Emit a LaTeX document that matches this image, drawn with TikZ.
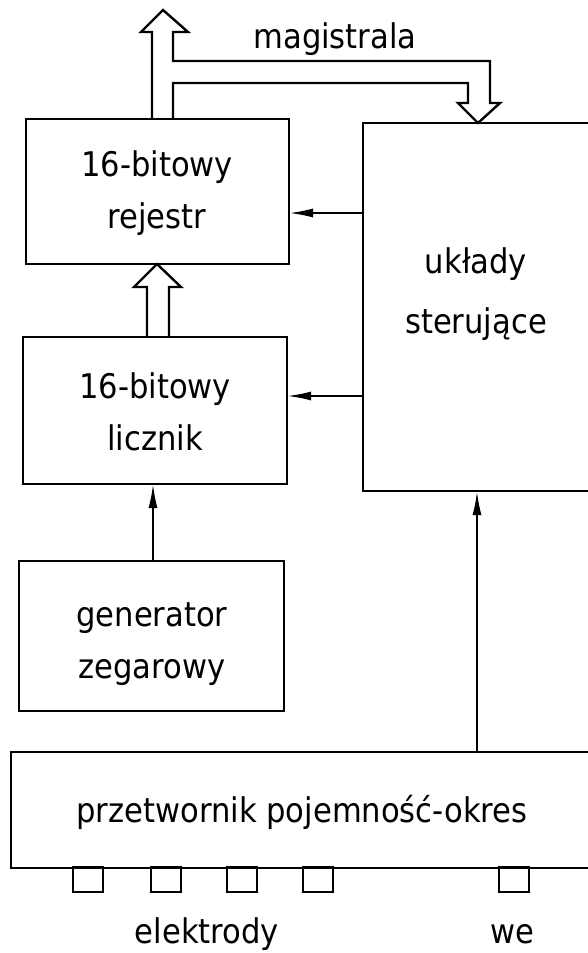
\documentclass[tikz,border=0pt]{standalone}
\usepackage{fontspec}
\setmainfont{DejaVu Sans}[FakeStretch=0.9]
\usetikzlibrary{arrows.meta,calc}
\begin{document}
\begin{tikzpicture}[x=1pt,y=-1pt,
  line width=2.4pt,
  blk/.style={draw,line width=2.6pt,inner sep=0pt,outer sep=0pt,anchor=north west},
  lbl/.style={font=\fontsize{34}{52}\selectfont,align=center,inner sep=0pt},
  pad/.style={draw,line width=2.4pt,minimum width=30pt,minimum height=25pt,inner sep=0pt,outer sep=0pt,anchor=north},
  sig/.style={line width=2pt,-{Latex[length=24pt,width=9pt]}},
  bus/.style={line width=2.4pt,line join=miter}]
\useasboundingbox (0,0) rectangle (588,953);
\clip (0,0) rectangle (588,953);
% blocks
\node[blk,minimum width=263pt,minimum height=145pt] (reg) at (26,119) {};
\node[blk,minimum width=264pt,minimum height=147pt] (cnt) at (23,337) {};
\node[blk,minimum width=265pt,minimum height=150pt] (gen) at (19,561) {};
\node[blk,minimum width=280pt,minimum height=368pt] (ctl) at (363,123) {};
\node[blk,minimum width=620pt,minimum height=116pt] (conv) at (11,752) {};
% texts
\node[lbl] (regt) at (157,193) {16-bitowy\\rejestr};
\node[lbl] (cntt) at (155,412) {16-bitowy\\licznik};
\node[lbl] (gent) at (152,644) {generator\\zegarowy};
\node[lbl,font=\fontsize{34}{60}\selectfont] (ctlt) at (476,294) {układy\\sterujące};
\node[lbl,anchor=base] (convt) at (302,822) {przetwornik pojemność-okres};
\node[lbl,anchor=base] (mag) at (335,48) {magistrala};
% pads
\foreach \i/\x in {1/88,2/166,3/242,4/318,5/514}
  \node[pad] (pad\i) at (\x,867) {};
\node[lbl,anchor=base] (elt) at (207,943) {elektrody};
\node[lbl,anchor=base] (wet) at (512,943) {we};
% bus (double-line arrow)
\draw[bus] (reg.north west -| 152,0) -- (152,32) -- (141,32) -- (163,10) -- (188,32) -- (173,32)
  -- (173,61) -- (490,61) -- (490,103) -- (500,103) -- (ctl.north west -| 478,0) -- (458,103)
  -- (468,103) -- (468,83) -- (173,83) -- (reg.north west -| 173,0);
% counter -> register wide arrow
\draw[bus] (cnt.north west -| 147,0) -- (147,287) -- (134,287) -- (reg.south west -| 157,0)
  -- (181,287) -- (169,287) -- (cnt.north west -| 169,0);
% signals
\draw[sig] (ctl.west |- 0,213) -- (reg.east |- 0,213);
\draw[sig] (ctl.west |- 0,396) -- (cnt.east |- 0,396);
\draw[sig] (gen.north -| 153,0) -- (cnt.south -| 153,0);
\draw[sig] (conv.north -| 477,0) -- (ctl.south -| 477,0);
\end{tikzpicture}
\end{document}
